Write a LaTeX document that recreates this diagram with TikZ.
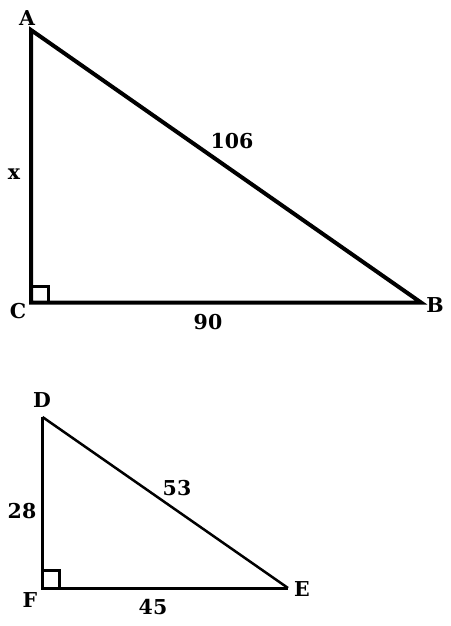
\documentclass[tikz,border=0pt]{standalone}
\usepackage{fontspec}
\setmainfont{DejaVu Serif}
\usetikzlibrary{calc}
\begin{document}
\begin{tikzpicture}[x=1pt,y=-1pt,
  lbl/.style={font=\fontsize{20.5}{24}\selectfont\bfseries, inner sep=0pt},
  bigside/.style={line width=4pt, line join=miter},
  smallside/.style={line width=3pt, line join=miter},
  hypo/.style={line width=2.5pt},
  ramark/.style={line width=3pt}]
\useasboundingbox (0,0) rectangle (450,626);
% triangle 1
\coordinate (A) at (31,30);
\coordinate (C) at (31,302.5);
\coordinate (B) at (421,302.5);
\draw[bigside] (A) -- (C) -- (B) -- cycle;
\draw[ramark] ($(C)+(0,-16)$) -- ++(17,0) -- ++(0,16);
\node[lbl] (lA) at (27,18) {A};
\node[lbl] (lC) at (18,311) {C};
\node[lbl] (lB) at (435,305) {B};
\node[lbl] (lx) at (14,174) {x};
\node[lbl] (l106) at (232,141) {106};
\node[lbl] (l90) at (208,322) {90};
% triangle 2
\coordinate (D) at (42.5,417);
\coordinate (F) at (42.5,588);
\coordinate (E) at (288,588);
\draw[smallside] (D) -- (F) -- (E);
\draw[hypo] (D) -- (E);
\draw[ramark] ($(F)+(0,-18)$) -- ++(16.5,0) -- ++(0,18);
\node[lbl] (lD) at (42,400) {D};
\node[lbl] (lF) at (30,600) {F};
\node[lbl] (lE) at (302,589) {E};
\node[lbl] (l28) at (22,511) {28};
\node[lbl] (l53) at (177,488) {53};
\node[lbl] (l45) at (153,607) {45};
\end{tikzpicture}
\end{document}
